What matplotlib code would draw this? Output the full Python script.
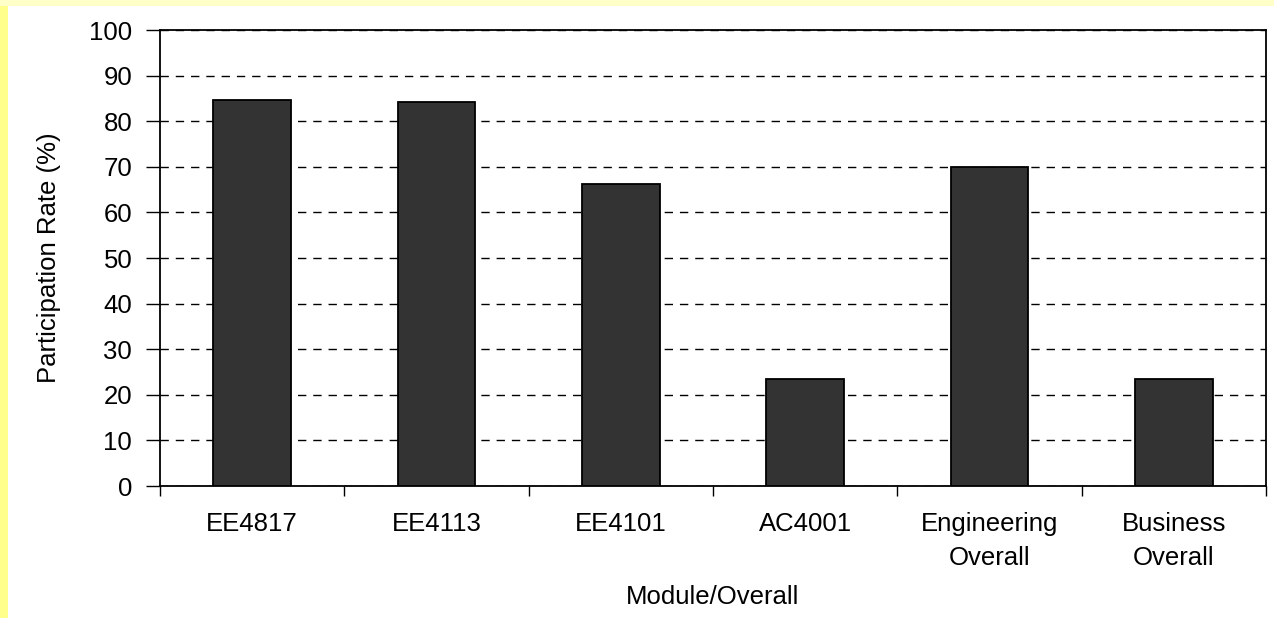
import matplotlib.pyplot as plt
from matplotlib.patches import Rectangle

plt.rcParams['font.family'] = ['Liberation Sans', 'DejaVu Sans']

modules = ["EE4817", "EE4113", "EE4101", "AC4001", "Engineering\nOverall", "Business\nOverall"]
rates = [84.7, 84.2, 66.2, 23.4, 70.0, 23.4]
y_ticks = list(range(0, 101, 10))

fs = 18.5

fig = plt.figure(figsize=(12.74, 6.18), dpi=100)
fig.patch.set_facecolor("white")

# yellow slide border on the left and top edges
fig.patches.append(Rectangle((0, 0), 8 / 1274, 1, transform=fig.transFigure,
                             facecolor="#ffff8c", edgecolor="none", zorder=0))
fig.patches.append(Rectangle((0, 1 - 6 / 618), 1, 6 / 618, transform=fig.transFigure,
                             facecolor="#ffffc8", edgecolor="none", zorder=0))

ax = fig.add_axes([160 / 1274, 132 / 618, 1106 / 1274, 456 / 618])

x = range(len(modules))
ax.bar(x, rates, width=0.42, color="#333333", edgecolor="black", linewidth=1.3, zorder=3)

ax.set_xlim(-0.5, len(modules) - 0.5)
ax.set_ylim(0, 100)
ax.set_yticks(y_ticks)
ax.yaxis.grid(True, color="black", linestyle=(0, (6, 5)), linewidth=1, zorder=1)

# category labels between boundary ticks
ax.set_xticks([i - 0.5 for i in range(len(modules) + 1)])
ax.set_xticklabels([])
ax.set_xticks(list(x), minor=True)
ax.set_xticklabels(modules, minor=True, fontsize=fs, linespacing=1.5)
ax.tick_params(axis="x", which="minor", length=0, pad=19)
ax.tick_params(axis="x", which="major", length=7, width=1, direction="out")
ax.tick_params(axis="y", length=10, width=1, direction="out", labelsize=fs, pad=10)

for s in ax.spines.values():
    s.set_linewidth(1.3)
    s.set_color("black")

ax.set_ylabel("Participation Rate (%)", fontsize=fs, labelpad=20)
ax.set_xlabel("Module/Overall", fontsize=fs, labelpad=11)

fig.savefig("out.png", dpi=100)
